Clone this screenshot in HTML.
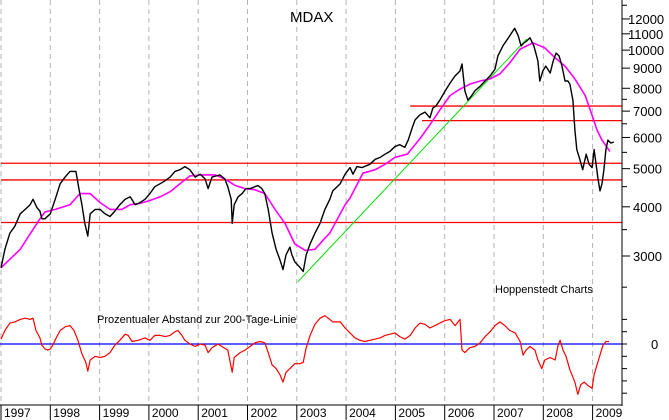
<!DOCTYPE html>
<html><head><meta charset="utf-8"><style>
html,body{margin:0;padding:0;background:#fff;}
svg{display:block;font-family:"Liberation Sans",Arial,sans-serif;}
</style></head><body>
<svg id="chart" width="669" height="420" viewBox="0 0 669 420" xmlns="http://www.w3.org/2000/svg">
<g id="grid"></g>
<g id="levels"></g>
<g id="series"></g>
<g id="axes"></g>
<text x="290" y="22" font-size="15">MDAX</text>
<text x="495" y="293" font-size="11">Hoppenstedt Charts</text>
<text x="97" y="323" font-size="11">Prozentualer Abstand zur 200-Tage-Linie</text>
</svg>
<script>
const years=["1997","1998","1999","2000","2001","2002","2003","2004","2005","2006","2007","2008","2009"];
const priceTicks=[3000,4000,5000,6000,7000,8000,9000,10000,11000,12000];
const priceMinorTicks=[2500,3500,4500,5500,6500,7500,13000];
const oscTicks=[-40,-30,-20,-10,0,10,20];
const priceT=[0,.08,.18,.28,.39,.49,.59,.65,.73,.79,.83,.89,1.00,1.10,1.20,1.30,1.40,1.52,1.58,1.64,1.70,1.76,1.81,1.91,2.01,2.11,2.21,2.31,2.41,2.52,2.62,2.72,2.82,2.92,3.02,3.12,3.23,3.33,3.43,3.53,3.63,3.73,3.83,3.94,4.04,4.14,4.20,4.28,4.36,4.44,4.54,4.60,4.67,4.69,4.73,4.81,4.89,4.97,5.05,5.15,5.21,5.29,5.35,5.42,5.50,5.58,5.66,5.72,5.78,5.86,5.90,5.96,6.07,6.13,6.19,6.27,6.37,6.47,6.57,6.67,6.73,6.88,6.98,7.08,7.14,7.22,7.32,7.48,7.59,7.69,7.79,7.89,7.99,8.09,8.19,8.26,8.34,8.40,8.50,8.60,8.70,8.76,8.82,8.90,9.01,9.11,9.21,9.31,9.35,9.41,9.47,9.55,9.61,9.72,9.82,9.92,10.02,10.08,10.18,10.28,10.36,10.42,10.49,10.55,10.61,10.67,10.73,10.81,10.89,10.93,10.99,11.05,11.14,11.20,11.26,11.32,11.38,11.44,11.50,11.54,11.60,11.64,11.68,11.74,11.80,11.87,11.93,11.99,12.03,12.07,12.11,12.15,12.19,12.23,12.27,12.31,12.37,12.43];
const priceV=[2800,3120,3430,3570,3840,3940,4050,4180,3980,3900,3730,3730,3840,4180,4580,4760,4920,4920,4450,4050,3630,3370,3840,3940,3940,3840,3780,3900,4050,4180,4240,4050,4100,4180,4320,4500,4580,4660,4760,4920,4970,5060,4970,4760,4840,4710,4450,4760,4790,4820,4710,4500,4180,3630,4050,4240,4320,4450,4450,4500,4530,4450,4320,3940,3430,3120,2930,2770,3020,3160,3020,2900,2800,2740,3020,3220,3430,3630,3940,4180,4390,4580,4840,5030,4840,5060,5030,5130,5280,5340,5440,5530,5690,5750,5660,5910,6350,6650,6850,6960,6730,7130,7210,7460,7880,8250,8600,8850,9220,7880,7460,7670,7880,8100,8350,8600,8950,9670,10250,10690,11070,11360,10880,10250,10440,10560,10750,10250,9390,8350,8850,9110,8750,9390,9830,9670,9110,8350,8350,8200,7460,6270,5590,5280,4970,5440,5130,5030,5590,5130,4710,4390,4580,4970,5590,5910,5810,5840];
const maT=[0,.39,.79,.89,1.10,1.40,1.60,1.81,2.01,2.21,2.45,2.62,2.82,3.02,3.23,3.43,3.63,3.83,4.04,4.34,4.54,4.75,4.95,5.15,5.35,5.56,5.76,5.96,6.17,6.37,6.57,6.67,6.98,7.08,7.34,7.59,7.79,7.99,8.24,8.50,8.70,8.90,9.11,9.31,9.51,9.72,9.92,10.12,10.32,10.53,10.79,11.03,11.24,11.44,11.64,11.85,11.99,12.09,12.19,12.35];
const maV=[2800,3120,3730,3880,3940,4050,4320,4320,4100,3940,3940,4050,4080,4150,4240,4370,4580,4790,4820,4820,4710,4530,4450,4420,4320,3940,3630,3220,3100,3120,3330,3430,4050,4210,4870,4970,5130,5340,5440,5960,6460,7040,7670,7960,8200,8350,8450,8700,9280,10060,10440,10130,9560,9110,8450,7670,6830,6270,5910,5530];
const oscT=[0,.08,.18,.28,.39,.49,.59,.65,.71,.79,.83,.89,.95,1.00,1.05,1.12,1.20,1.30,1.40,1.48,1.56,1.64,1.72,1.76,1.81,1.91,2.01,2.11,2.21,2.31,2.41,2.52,2.58,2.66,2.78,2.92,3.02,3.12,3.23,3.33,3.43,3.53,3.59,3.67,3.73,3.83,3.94,4.04,4.14,4.20,4.28,4.40,4.48,4.60,4.69,4.73,4.85,4.95,5.05,5.15,5.25,5.35,5.42,5.50,5.58,5.66,5.72,5.78,5.86,5.96,6.06,6.13,6.19,6.27,6.37,6.47,6.57,6.67,6.73,6.88,6.98,7.08,7.18,7.28,7.38,7.48,7.59,7.69,7.79,7.89,7.99,8.09,8.19,8.30,8.40,8.50,8.60,8.70,8.80,8.90,9.01,9.11,9.21,9.31,9.35,9.41,9.51,9.61,9.72,9.82,9.92,10.02,10.12,10.22,10.32,10.43,10.53,10.59,10.65,10.73,10.83,10.89,10.97,11.03,11.14,11.24,11.30,11.34,11.40,11.46,11.54,11.64,11.70,11.76,11.83,11.91,11.99,12.03,12.09,12.15,12.21,12.27,12.33];
const oscV=[4,11,17,18,20,21,20,21,11,5,-1,-4,-5,-4,-1,5,11,14,15,11,3,-8,-15,-22,-13,-10,-11,-10,-7,-1,3,8,7,2,3,5,3,7,7,6,7,10,11,7,3,0,-2,0,-1,-7,-3,0,-2,-5,-23,-11,-7,-5,-2,1,2,1,-7,-17,-20,-25,-31,-23,-20,-16,-16,-15,-3,7,16,21,23,20,18,18,13,9,5,3,2,3,4,5,7,8,9,6,4,7,13,17,16,13,15,17,19,20,15,20,-5,-7,-3,-2,1,6,10,15,18,15,11,9,2,-9,-5,-2,-5,-13,-20,-13,-11,-13,-1,3,-5,-10,-21,-31,-41,-33,-31,-34,-36,-25,-17,-9,-1,2,2];
const levelV=[5160,4680,3650,7210,6620];
const levelStartT=[0,0,0,8.30,8.54];
const trendT=[6.02,10.67];
const trendV=[2580,10690];

const NS="http://www.w3.org/2000/svg";
const X=t=>1+t*49.3;
const YP=v=>256-171*Math.log(v/3000);
const YO=p=>344-1.23*p;
const AX=622, AY=405;
function mk(tag,attrs,parent){const e=document.createElementNS(NS,tag);for(const k in attrs)e.setAttribute(k,attrs[k]);document.getElementById(parent).appendChild(e);return e;}

years.forEach((y,i)=>{
  const x=X(i);
  const g=mk('line',{x1:x,x2:x,y1:0,y2:AY,stroke:'#b4b4b4','stroke-dasharray':'5,4','stroke-width':1},'grid');
  
  
  const tk=mk('line',{x1:x,x2:x,y1:AY,y2:420,stroke:'#000','stroke-width':1},'axes');
  
  
  const tx=mk('text',{x:x+3,y:417,'font-size':12,fill:'#000'},'axes');
  tx.textContent=y;
  
  
});

levelV.forEach((v,i)=>{
  const l=mk('line',{x1:X(levelStartT[i]),x2:AX,y1:YP(v),y2:YP(v),stroke:'#ff0000','stroke-width':1.3},'levels');
  
  
});
const tr=mk('line',{x1:X(trendT[0]),y1:YP(trendV[0]),x2:X(trendT[1]),y2:YP(trendV[1]),stroke:'#00e000','stroke-width':1},'levels');


const zl=mk('line',{x1:0,x2:AX,y1:YO(0),y2:YO(0),stroke:'#0000ff','stroke-width':1.3},'levels');



function poly(ts,vs,fy,color,w,name){
  const pts=ts.map((t,i)=>X(t).toFixed(1)+','+fy(vs[i]).toFixed(1)).join(' ');
  const p=mk('polyline',{points:pts,fill:'none',stroke:color,'stroke-width':w,'stroke-linejoin':'round'},'series');
  
  
}
poly(maT,maV,YP,'#ff00ff',1.6,'moving-average-200');
poly(priceT,priceV,YP,'#000000',1.4,'mdax-price-line');
poly(oscT,oscV,YO,'#ff0000',1.2,'oscillator-line');

const ya=mk('line',{x1:AX,x2:AX,y1:0,y2:AY+1,stroke:'#000','stroke-width':1},'axes');


const xa=mk('line',{x1:0,x2:AX,y1:AY,y2:AY,stroke:'#000','stroke-width':1},'axes');


priceTicks.forEach(v=>{
  const y=YP(v);
  const t=mk('line',{x1:AX,x2:AX+8,y1:y,y2:y,stroke:'#000'},'axes');
  
  
  const l=mk('text',{x:AX+6+(v>=10000?0:5),y:y+5,'font-size':13,fill:'#000'},'axes');
  l.textContent=v;
  
  
});
priceMinorTicks.forEach(v=>{
  const y=YP(v);
  const t=mk('line',{x1:AX,x2:AX+5,y1:y,y2:y,stroke:'#000'},'axes');
  
  
});
oscTicks.forEach(p=>{
  const y=YO(p);
  const t=mk('line',{x1:AX,x2:AX+5,y1:y,y2:y,stroke:'#000'},'axes');
  
  
});
const z=mk('text',{x:651,y:YO(0)+5,'font-size':13,fill:'#000'},'axes');
z.textContent='0';


</script>
</body></html>
